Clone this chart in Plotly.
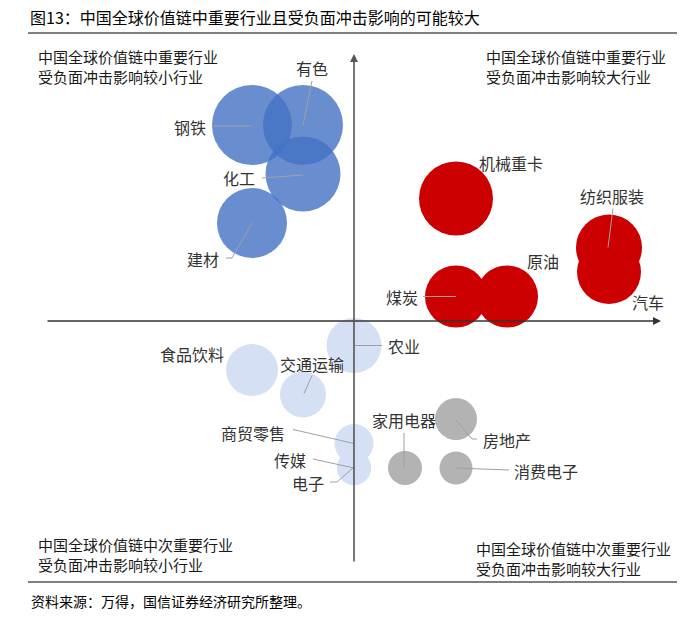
import plotly.graph_objects as go

# ---------------- data ----------------
blue_names = ["钢铁", "有色", "化工", "建材"]
blue_x = [-2, -1, -1, -2]
blue_y = [8, 8, 6, 4]
blue_size = [80, 80, 75, 70]

red_names = ["机械重卡", "煤炭", "原油", "纺织服装", "汽车"]
red_x = [2, 2, 3, 5, 5]
red_y = [5, 1, 1, 3, 2]
red_size = [74, 62, 62, 66, 64]

light_names = ["农业", "食品饮料", "交通运输", "商贸零售", "传媒", "电子"]
light_x = [0, -2, -1, 0, 0, 0]
light_y = [-1, -2, -3, -5, -6, -6]
light_size = [55, 52, 46, 39, 34, 34]

gray_names = ["家用电器", "房地产", "消费电子"]
gray_x = [1, 2, 2]
gray_y = [-6, -4, -6]
gray_size = [34, 42, 33]

title_text = "图13：中国全球价值链中重要行业且受负面冲击影响的可能较大"
quad_tl = "中国全球价值链中重要行业<br>受负面冲击影响较小行业"
quad_tr = "中国全球价值链中重要行业<br>受负面冲击影响较大行业"
quad_bl = "中国全球价值链中次重要行业<br>受负面冲击影响较小行业"
quad_br = "中国全球价值链中次重要行业<br>受负面冲击影响较大行业"
source_text = "资料来源：万得，国信证券经济研究所整理。"

# ---------------- layout helpers ----------------
W, H = 700, 623
X0, SX = 354, 51.0     # pixel of x=0, pixels per x unit
Y0, SY = 321, 24.5     # pixel of y=0, pixels per y unit
FONT = "Noto Sans CJK SC, Noto Sans, sans-serif"

def dx(p):
    return p / SX

def dy(p):
    return -p / SY

# label offsets (pixels, right/down) and leader-line offsets relative to bubble centre
label_style = {
    "钢铁": ((-62, 2), [(-40, 1), (0, 1)]),
    "有色": ((9, -57), [(9, -44), (0, 0)]),
    "化工": ((-64, 4), [(-41, 4), (0, 1)]),
    "建材": ((-49, 36), [(-26, 35), (-20, 35), (0, 0)]),
    "机械重卡": ((55, -36), None),
    "煤炭": ((-54, 0), [(-33, 0), (0, 0)]),
    "原油": ((36, -36), None),
    "纺织服装": ((3, -52), [(4, -39), (-1, 0)]),
    "汽车": ((39, 30), None),
    "农业": ((50, 0), [(1, 0), (28, 0)]),
    "食品饮料": ((-60, -16), None),
    "交通运输": ((9, -31), [(9, -19), (1, -1)]),
    "商贸零售": ((-101, -11), [(-61, -14), (0, 0)]),
    "传媒": ((-64, -8), [(-41, -9), (0, 0)]),
    "电子": ((-46, 15), [(-24, 14), (-17, 14), (0, -1)]),
    "家用电器": ((-1, -48), [(-1, -35), (-1, 0)]),
    "房地产": ((51, 21), [(0, 1), (16, 20), (21, 20)]),
    "消费电子": ((90, 3), [(0, 0), (53, 2)]),
}

groups = [
    (blue_names, blue_x, blue_y, blue_size, "rgba(68,114,196,0.8)"),
    (red_names, red_x, red_y, red_size, "#CC0000"),
    (light_names, light_x, light_y, light_size, "#D6E0F4"),
    (gray_names, gray_x, gray_y, gray_size, "#B3B3B3"),
]

fig = go.Figure()
shapes = []
annotations = []

for names, xs, ys, sizes, color in groups:
    fig.add_trace(go.Scatter(
        x=xs, y=ys, mode="markers", text=names, hoverinfo="text",
        marker=dict(size=sizes, sizemode="diameter", sizeref=1, opacity=1,
                    color=color, line=dict(width=0)),
        showlegend=False,
    ))
    for n, x, y in zip(names, xs, ys):
        (lx, ly), line_pts = label_style[n]
        annotations.append(dict(
            x=x + dx(lx), y=y + dy(ly), xref="x", yref="y", text=n,
            showarrow=False, xanchor="center", yanchor="middle",
            font=dict(family=FONT, size=16, color="#333333")))
        if line_pts:
            path = " ".join(
                ("M" if i == 0 else "L") + f"{x + dx(px):.4f},{y + dy(py):.4f}"
                for i, (px, py) in enumerate(line_pts))
            shapes.append(dict(type="path", path=path, xref="x", yref="y",
                               line=dict(color="#A0A0A0", width=1), layer="above"))

def pxp(px):
    return px / W

def pyp(py):
    return 1 - py / H

# axes with arrows
annotations.append(dict(x=pxp(661), y=pyp(321), xref="paper", yref="paper",
                        ax=-(661 - 46), ay=0, text="", showarrow=True,
                        arrowhead=2, arrowsize=1, arrowwidth=1.6, arrowcolor="#333333"))
annotations.append(dict(x=pxp(354), y=pyp(54), xref="paper", yref="paper",
                        ax=0, ay=563 - 54, text="", showarrow=True,
                        arrowhead=2, arrowsize=1, arrowwidth=1.6, arrowcolor="#555555"))

# rules
shapes.append(dict(type="line", xref="paper", yref="paper", x0=pxp(28), x1=pxp(677),
                   y0=pyp(33), y1=pyp(33), line=dict(color="#7F7F7F", width=2)))
shapes.append(dict(type="line", xref="paper", yref="paper", x0=pxp(28), x1=pxp(677),
                   y0=pyp(582), y1=pyp(582), line=dict(color="#7F7F7F", width=2)))

# texts
annotations.append(dict(x=pxp(28), y=pyp(17), xref="paper", yref="paper", text=title_text,
                        showarrow=False, xanchor="left", yanchor="middle",
                        font=dict(family=FONT, size=16, color="#000000")))
annotations.append(dict(x=pxp(29), y=pyp(601), xref="paper", yref="paper", text=source_text,
                        showarrow=False, xanchor="left", yanchor="middle",
                        font=dict(family=FONT, size=14, color="#000000")))
for txt, px, py in [(quad_tl, 36, 67), (quad_tr, 484, 66), (quad_bl, 36, 554), (quad_br, 474, 558)]:
    annotations.append(dict(x=pxp(px), y=pyp(py), xref="paper", yref="paper", text=txt,
                            showarrow=False, xanchor="left", yanchor="middle", align="left",
                            font=dict(family=FONT, size=15, color="#1A1A1A")))

fig.update_layout(
    width=W, height=H, margin=dict(l=0, r=0, t=0, b=0),
    paper_bgcolor="white", plot_bgcolor="white",
    xaxis=dict(range=[(0 - X0) / SX, (W - X0) / SX], visible=False, fixedrange=True),
    yaxis=dict(range=[(Y0 - H) / SY, Y0 / SY], visible=False, fixedrange=True),
    shapes=shapes, annotations=annotations,
)

fig.write_html("out.html", post_script="document.body.style.margin='0';",
               config={"displayModeBar": False})
